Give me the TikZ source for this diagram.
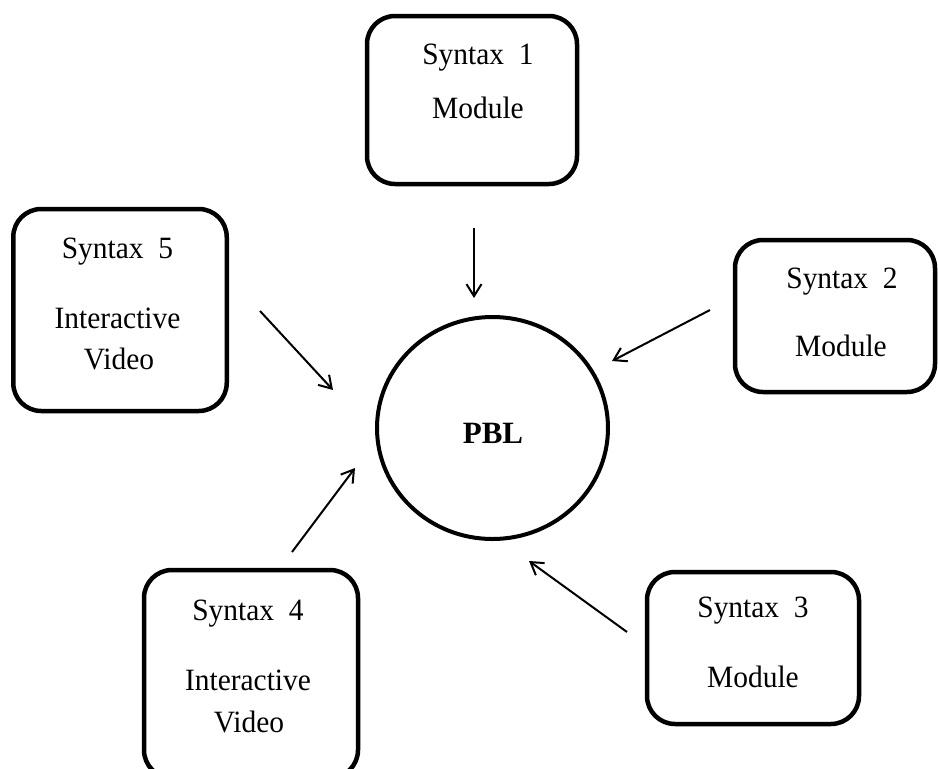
\documentclass[tikz,border=0pt]{standalone}
\usepackage{fontspec}
\setmainfont{Liberation Serif}[FakeStretch=0.95]
\newfontfamily\hubfont{Liberation Serif}
\usetikzlibrary{arrows.meta,shapes.geometric}

\begin{document}
\begin{tikzpicture}[x=1pt,y=-1pt,
  box/.style={draw,line width=4.5pt,rounded corners=28pt,inner sep=0pt},
  hub/.style={draw,line width=4pt,ellipse,inner sep=0pt,
              minimum width=231pt,minimum height=222pt},
  lbl/.style={font=\fontsize{31}{36}\selectfont,anchor=base,inner sep=0pt},
  feed/.style={line width=2pt,-{Straight Barb[length=12pt,width=15pt,line width=2pt]}}]

\clip (0,0) rectangle (938,769);
\useasboundingbox (0,0) rectangle (938,769);

% central hub
\node[hub] (pbl) at (492.5,428) {};
\node[lbl,font=\hubfont\fontsize{31}{36}\selectfont\bfseries] (pbltext) at (493,443) {PBL};

% surrounding boxes
\node[box,minimum width=210pt,minimum height=168pt]   (s1) at (472,100) {};
\node[box,minimum width=200pt,minimum height=152pt]   (s2) at (835,316) {};
\node[box,minimum width=212pt,minimum height=152pt]   (s3) at (753,648) {};
\node[box,minimum width=214pt,minimum height=208pt]   (s4) at (251,674) {};
\node[box,minimum width=213.5pt,minimum height=202pt] (s5) at (120,310) {};

% box labels
\node[lbl] (s1a) at (478,64)  {Syntax\ \ 1};
\node[lbl] (s1b) at (478,118) {Module};
\node[lbl] (s2a) at (842,288) {Syntax\ \ 2};
\node[lbl] (s2b) at (841,356) {Module};
\node[lbl] (s3a) at (753,617) {Syntax\ \ 3};
\node[lbl] (s3b) at (753,687) {Module};
\node[lbl] (s4a) at (248,620) {Syntax\ \ 4};
\node[lbl] (s4b) at (248,690) {Interactive};
\node[lbl] (s4c) at (249,732) {Video};
\node[lbl] (s5a) at (117.5,258) {Syntax\ \ 5};
\node[lbl] (s5b) at (117.5,328) {Interactive};
\node[lbl] (s5c) at (119,369) {Video};

% arrow end points
\coordinate (a1s) at (474,228); \coordinate (a1e) at (474,298);
\coordinate (a2s) at (710,310); \coordinate (a2e) at (612,361);
\coordinate (a3s) at (627,632); \coordinate (a3e) at (529,561);
\coordinate (a4s) at (292,552); \coordinate (a4e) at (355,468);
\coordinate (a5s) at (260,311); \coordinate (a5e) at (333,390);

\draw[feed] (a1s) -- (a1e);
\draw[feed] (a2s) -- (a2e);
\draw[feed] (a3s) -- (a3e);
\draw[feed] (a4s) -- (a4e);
\draw[feed] (a5s) -- (a5e);
\end{tikzpicture}
\end{document}
